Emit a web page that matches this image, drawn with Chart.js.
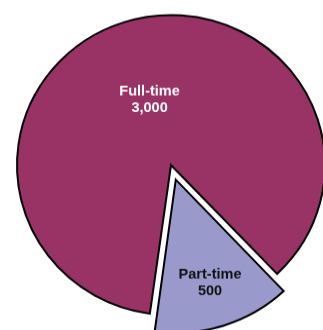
<!DOCTYPE html>
<html>
<head>
<meta charset="utf-8">
<script src="https://cdn.jsdelivr.net/npm/chart.js@4/dist/chart.umd.min.js"></script>
<style>
html,body{margin:0;padding:0;background:#fff;overflow:hidden;width:323px;height:330px;}
#wrap{position:absolute;left:0;top:0;width:342px;height:339px;transform:scaleY(0.974);transform-origin:0 0;}
</style>
</head>
<body>
<div id="wrap"><canvas id="c"></canvas></div>
<script>
const categories = ["Full-time", "Part-time"];
const values = [3000, 500];
const valueLabels = ["3,000", "500"];

const sliceColors = ["#993366", "#9999CC"];
const labelColors = ["#ffffff", "#111111"];
const labelFractions = [0.455, 0.705];
const explodeShift = [0, 19];

// Chart.js v4 moves an arc by offset/4 * (1 + (1 - sin(circumference)))
const total = values.reduce((a, b) => a + b, 0);
const offsets = values.map((v, i) => {
  const circ = v / total * Math.PI * 2;
  const fix = 1 - Math.sin(Math.min(Math.PI, circ));
  return explodeShift[i] * 4 / (1 + fix);
});

const labelPlugin = {
  id: 'sliceLabels',
  afterDatasetsDraw(chart) {
    const ctx = chart.ctx;
    const meta = chart.getDatasetMeta(0);
    meta.data.forEach((arc, i) => {
      const p = arc.getProps(['x','y','startAngle','endAngle','outerRadius'], true);
      const mid = (p.startAngle + p.endAngle) / 2;
      const r = p.outerRadius * labelFractions[i] + explodeShift[i];
      const x = p.x + Math.cos(mid) * r;
      const y = p.y + Math.sin(mid) * r;
      ctx.save();
      ctx.fillStyle = labelColors[i];
      ctx.font = 'bold 14.5px "Liberation Sans", Arial, sans-serif';
      ctx.textAlign = 'center';
      ctx.textBaseline = 'middle';
      ctx.fillText(categories[i], x, y - 8.5);
      ctx.fillText(valueLabels[i], x, y + 8.5);
      ctx.restore();
    });
  }
};

new Chart(document.getElementById('c'), {
  type: 'pie',
  data: {
    labels: categories,
    datasets: [{
      data: values,
      backgroundColor: sliceColors,
      borderColor: '#000000',
      borderWidth: 2,
      borderJoinStyle: 'miter',
      offset: offsets,
      radius: 154
    }]
  },
  options: {
    responsive: true,
    maintainAspectRatio: false,
    animation: false,
    rotation: 187.9,
    layout: { padding: 0 },
    plugins: {
      legend: { display: false },
      tooltip: { enabled: false }
    }
  },
  plugins: [labelPlugin]
});
</script>
</body>
</html>
